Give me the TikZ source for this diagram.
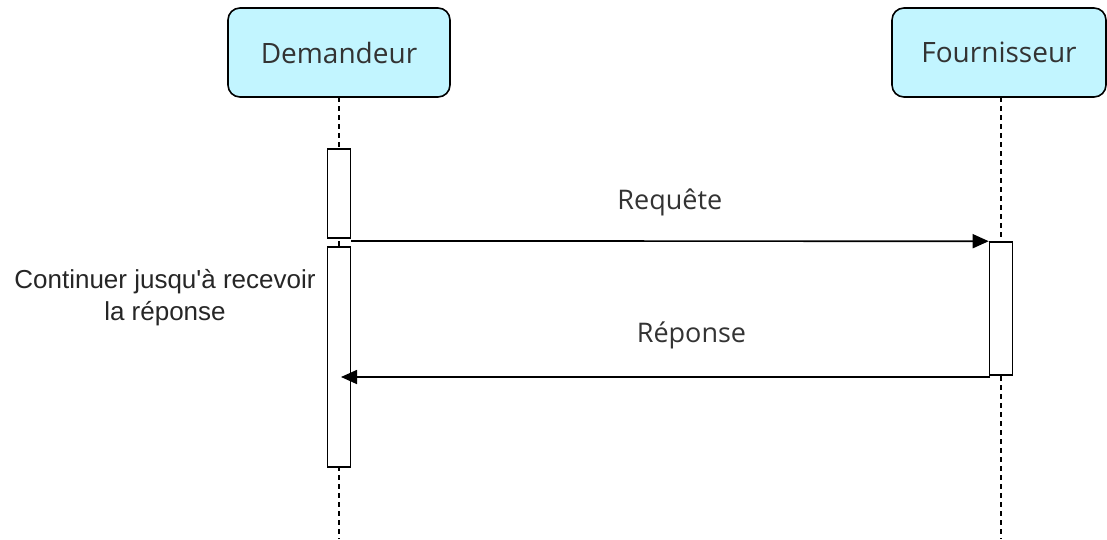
\documentclass[tikz,border=0pt]{standalone}
\usepackage{fontspec}
\setmainfont{Open Sans}
\newfontfamily\arialfont{Liberation Sans}
\usetikzlibrary{arrows.meta}
\definecolor{boxfill}{HTML}{C2F5FF}
\begin{document}
\begin{tikzpicture}[x=1pt,y=-1pt,
  actor/.style={draw, line width=1.6pt, fill=boxfill, rounded corners=12pt, minimum height=89pt, inner sep=0pt, font=\fontsize{28}{32}\selectfont, text=black!80},
  act/.style={draw, line width=1.6pt, fill=white, minimum width=23pt, inner sep=0pt},
  life/.style={line width=1.3pt, dash pattern=on 5pt off 4pt},
  msg/.style={line width=1.7pt, -{Triangle[length=16pt,width=14pt]}},
  lbl/.style={font=\fontsize{27}{32}\selectfont, text=black!80},
  side/.style={font=\arialfont\fontsize{26}{32}\selectfont, text=black!85, align=center}]
\useasboundingbox (0,0) rectangle (1107,539);
% actors
\node[actor, minimum width=222pt] (dem) at (339,52.5) {Demandeur};
\node[actor, minimum width=214pt] (fou) at (999,52.5) {Fournisseur};
% lifeline ends
\coordinate (demEnd) at (339,539);
\coordinate (fouEnd) at (1001,539);
\draw[life] (339,97) -- (demEnd);
\draw[life] (1001,97) -- (fouEnd);
% activations
\node[act, minimum height=89pt] (a1) at (339,193.5) {};
\node[act, minimum height=220pt] (a2) at (339,357) {};
\node[act, minimum height=133pt] (a3) at (1001,308.5) {};
% messages
\coordinate (reqS) at (351,241);
\coordinate (repS) at (990,377);
\coordinate (repE) at (341,377);
\draw[msg] (reqS) -- (a3.north west) node[pos=0.5, above=21pt, lbl] (req) {Requête};
\draw[msg] (repS) -- (repE) node[pos=0.46, above=24pt, lbl] (rep) {Réponse};
% side note
\node[side] (note) at (165,298) {Continuer jusqu'à recevoir\\la réponse};
\end{tikzpicture}
\end{document}
